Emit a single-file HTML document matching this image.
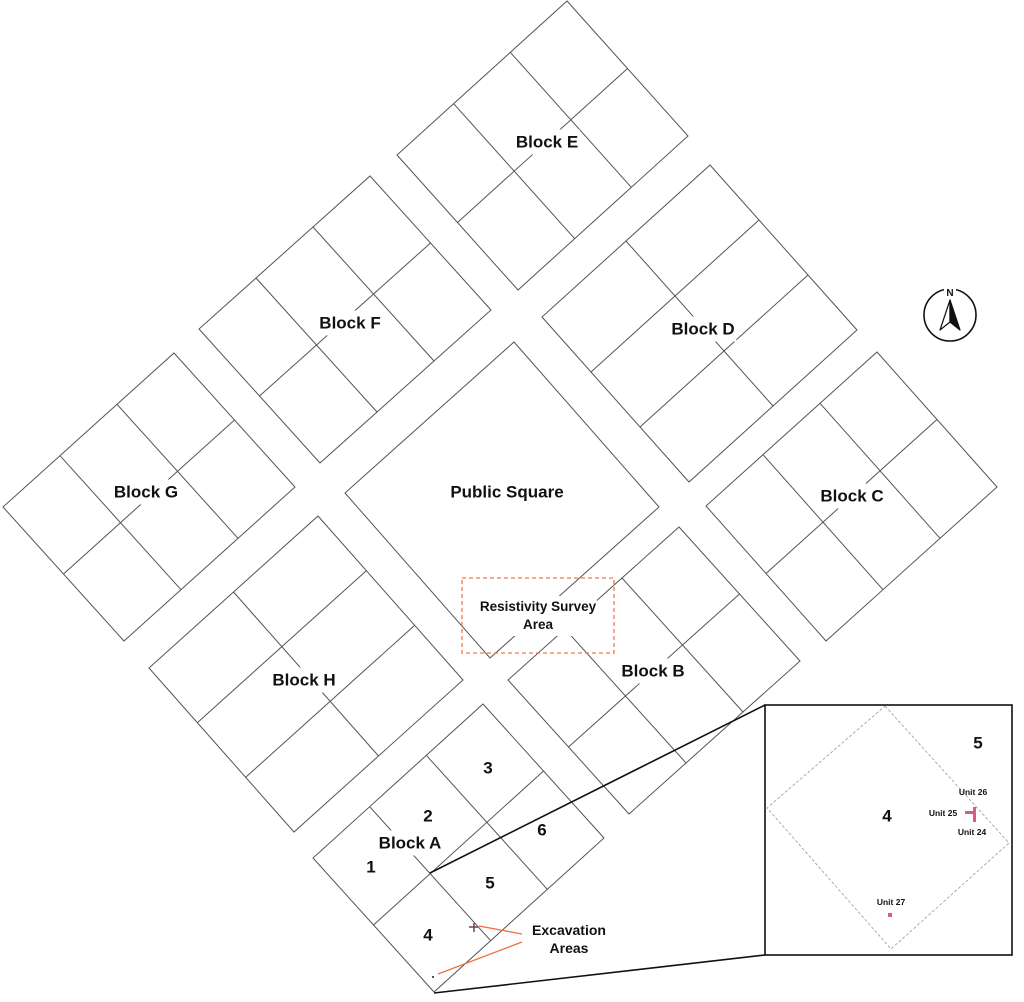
<!DOCTYPE html>
<html><head><meta charset="utf-8">
<style>
html,body{margin:0;padding:0;background:#fff;}
#c{position:relative;width:1024px;height:1002px;overflow:hidden;font-family:"Liberation Sans",sans-serif;}
svg{position:absolute;left:0;top:0;}
.l{position:absolute;transform:translate(-50%,-50%);background:#fff;font-weight:bold;font-size:17px;color:#111;white-space:nowrap;padding:4px 2px;line-height:1;}
.n{position:absolute;transform:translate(-50%,-50%);font-weight:bold;font-size:17px;color:#111;line-height:1;}
.u{position:absolute;transform:translate(-50%,-50%);font-weight:bold;font-size:8.5px;color:#111;white-space:nowrap;line-height:1;}
</style></head><body><div id="c">
<svg width="1024" height="1002" viewBox="0 0 1024 1002">
<g fill="none" stroke="#555" stroke-width="1">
<polygon points="567,1 688,136 518,290 397,155"/>
<line x1="510.3" y1="52.3" x2="631.3" y2="187.3"/><line x1="453.7" y1="103.7" x2="574.7" y2="238.7"/><line x1="627.5" y1="68.5" x2="457.5" y2="222.5"/>
<polygon points="370,176 491,310 320,463 199,329"/>
<line x1="313" y1="227" x2="434" y2="361"/><line x1="256" y1="278" x2="377" y2="412"/><line x1="430.5" y1="243" x2="259.5" y2="396"/>
<polygon points="174,353 295,487 124,641 3,507"/>
<line x1="117" y1="404.3" x2="238" y2="538.3"/><line x1="60" y1="455.7" x2="181" y2="589.7"/><line x1="234.5" y1="420" x2="63.5" y2="574"/>
<polygon points="877,352 997,487 826,641 706,506"/>
<line x1="820" y1="403.3" x2="940" y2="538.3"/><line x1="763" y1="454.7" x2="883" y2="589.7"/><line x1="937" y1="419.5" x2="766" y2="573.5"/>
<polygon points="679,527 800,661 629,814 508,680"/>
<line x1="622" y1="578" x2="743" y2="712"/><line x1="565" y1="629" x2="686" y2="763"/><line x1="739.5" y1="594" x2="568.5" y2="747"/>
<polygon points="483,704 604,838 434,992 313,858"/>
<line x1="426.3" y1="755.3" x2="547.3" y2="889.3"/><line x1="369.7" y1="806.7" x2="490.7" y2="940.7"/><line x1="543.5" y1="771" x2="373.5" y2="925"/>
<polygon points="710,165 857,330 689,482 542,317"/>
<line x1="759" y1="220" x2="591" y2="372"/><line x1="808" y1="275" x2="640" y2="427"/><line x1="626" y1="241" x2="773" y2="406"/>
<polygon points="318,516 463,680 294,832 149,668"/>
<line x1="366.3" y1="570.7" x2="197.3" y2="722.7"/><line x1="414.7" y1="625.3" x2="245.7" y2="777.3"/><line x1="233.5" y1="592" x2="378.5" y2="756"/>
<polygon points="514,342 659,507 490,658 345,493"/>
</g>
<g stroke="#111" stroke-width="1.6" fill="none">
<line x1="430" y1="873" x2="765" y2="705"/>
<line x1="434" y1="993" x2="765" y2="955"/>
<rect x="765" y="705" width="247" height="250" fill="#fff"/>
</g>
<polygon points="885,706 1009,843 891,949 767,808" fill="none" stroke="#999" stroke-width="0.8" stroke-dasharray="3,2"/>
<rect x="965" y="811" width="10" height="3" fill="#d95b8c"/>
<rect x="973" y="807" width="3" height="15" fill="#d95b8c"/>
<rect x="888" y="913" width="4" height="4" fill="#d95b8c"/>
<rect x="462" y="578" width="152" height="75" fill="none" stroke="#f07a45" stroke-width="1.3" stroke-dasharray="4,3"/>
<g stroke="#ee7040" stroke-width="1.3">
<line x1="479" y1="926" x2="522" y2="934"/>
<line x1="438" y1="974" x2="522" y2="942"/>
</g>
<g stroke="#7a3a55" stroke-width="1.5">
<line x1="469" y1="927" x2="478" y2="927"/><line x1="474" y1="923" x2="474" y2="932"/>
</g>
<rect x="432" y="976" width="2" height="2" fill="#7a3a55"/>
<circle cx="950" cy="315" r="26" fill="none" stroke="#111" stroke-width="1.6"/>
<rect x="944" y="285" width="12" height="12" fill="#fff"/>
<text x="950" y="296" font-family="Liberation Sans" font-size="10" font-weight="bold" text-anchor="middle" fill="#111">N</text>
<polygon points="950,300 940,330 950,322" fill="#fff" stroke="#111" stroke-width="1.2" stroke-linejoin="round"/>
<polygon points="950,300 960,330 950,322" fill="#111" stroke="#111" stroke-width="1.2" stroke-linejoin="round"/>
</svg>
<div class="l" style="left:547px;top:142px">Block E</div>
<div class="l" style="left:350px;top:323px">Block F</div>
<div class="l" style="left:146px;top:492px">Block G</div>
<div class="l" style="left:703px;top:329px">Block D</div>
<div class="l" style="left:852px;top:496px">Block C</div>
<div class="l" style="left:507px;top:492px">Public Square</div>
<div class="l" style="left:304px;top:680px">Block H</div>
<div class="l" style="left:653px;top:671px">Block B</div>
<div class="l" style="left:410px;top:843px">Block A</div>
<div class="l" style="left:538px;top:616px;font-size:13.5px;text-align:center;line-height:18px;padding:2px 1px">Resistivity Survey<br>Area</div>
<div class="n" style="left:371px;top:867px">1</div>
<div class="n" style="left:428px;top:816px">2</div>
<div class="n" style="left:488px;top:768px">3</div>
<div class="n" style="left:428px;top:935px">4</div>
<div class="n" style="left:490px;top:883px">5</div>
<div class="n" style="left:542px;top:830px">6</div>
<div class="n" style="left:569px;top:939px;font-size:14px;text-align:center;line-height:18px">Excavation<br>Areas</div>
<div class="n" style="left:978px;top:743px">5</div>
<div class="n" style="left:887px;top:816px">4</div>
<div class="u" style="left:973px;top:792px">Unit 26</div>
<div class="u" style="left:943px;top:813px">Unit 25</div>
<div class="u" style="left:972px;top:832px">Unit 24</div>
<div class="u" style="left:891px;top:902px">Unit 27</div>
</div></body></html>
